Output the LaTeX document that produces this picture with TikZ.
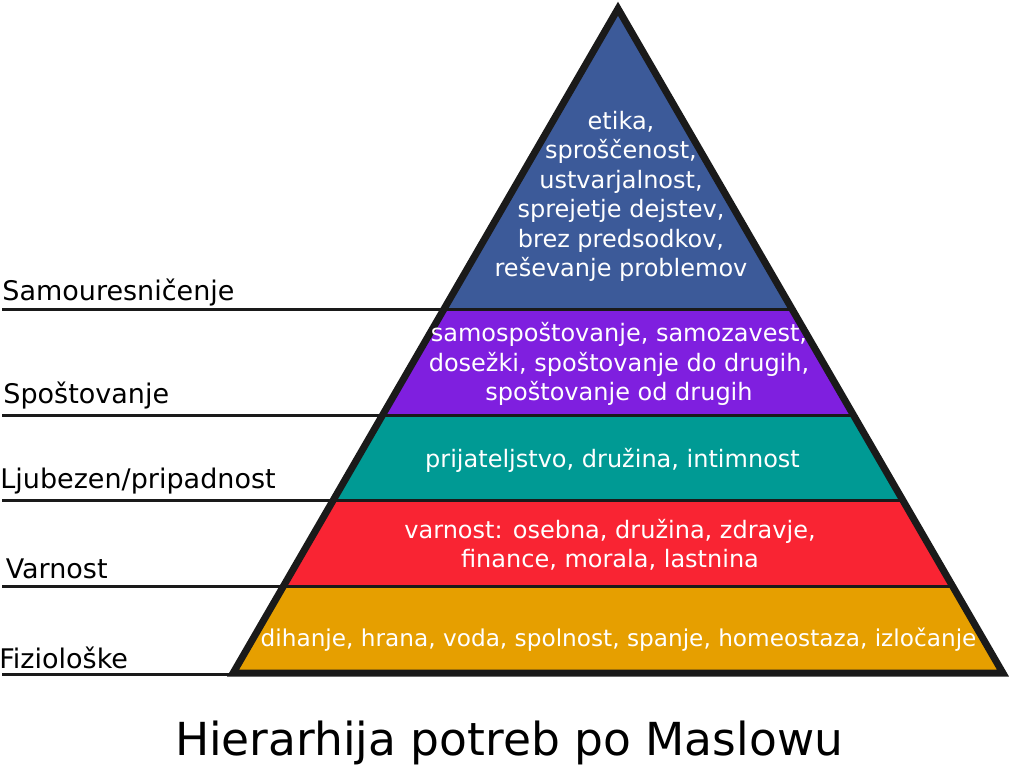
\documentclass[tikz,border=0pt]{standalone}
\usepackage{fontspec}
\setmainfont{DejaVu Sans}
\definecolor{cblue}{HTML}{3C5A99}
\definecolor{cpurple}{HTML}{7F1FDF}
\definecolor{cteal}{HTML}{009A94}
\definecolor{cred}{HTML}{F92433}
\definecolor{corange}{HTML}{E69F00}
\definecolor{cline}{HTML}{1A1A1A}
\tikzset{
  rulebar/.style={draw=cline, line width=3pt},
  outline/.style={draw=cline, line width=7pt, line join=miter},
  levellabel/.style={anchor=base west, inner sep=0pt, text=black, font=\fontsize{27}{32}\selectfont},
  leveltext/.style={inner sep=0pt, text=white, align=center, font=\fontsize{24}{29.5}\selectfont},
  titletext/.style={anchor=base, inner sep=0pt, text=black, font=\fontsize{45.5}{54}\selectfont}
}
\begin{document}
\begin{tikzpicture}[x=1pt,y=-1pt]
\useasboundingbox (0,0) rectangle (1012,764);
\coordinate (apex) at (618,8.7);
\coordinate (L1) at (444.0,309);   \coordinate (R1) at (792.0,309);
\coordinate (L2) at (382.6,415);   \coordinate (R2) at (853.4,415);
\coordinate (L3) at (333.3,500);   \coordinate (R3) at (902.7,500);
\coordinate (L4) at (283.5,586);   \coordinate (R4) at (952.5,586);
\coordinate (L5) at (233.1,673);   \coordinate (R5) at (1002.9,673);
\coordinate (S1) at (2,309);
\coordinate (S2) at (2,415);
\coordinate (S3) at (2,500);
\coordinate (S4) at (2,586);
\coordinate (S5) at (2,674.5);
\coordinate (B5) at (233.1,674.5);
% level fills
\fill[cblue] (apex) -- (R1) -- (L1) -- cycle;
\fill[cpurple] (L1) -- (R1) -- (R2) -- (L2) -- cycle;
\fill[cteal] (L2) -- (R2) -- (R3) -- (L3) -- cycle;
\fill[cred] (L3) -- (R3) -- (R4) -- (L4) -- cycle;
\fill[corange] (L4) -- (R4) -- (R5) -- (L5) -- cycle;
% label rules and dividers
\draw[rulebar] (S1) -- (R1);
\draw[rulebar] (S2) -- (R2);
\draw[rulebar] (S3) -- (R3);
\draw[rulebar] (S4) -- (R4);
\draw[rulebar] (S5) -- (B5);
% outline
\draw[outline] (apex) -- (R5) -- (L5) -- cycle;
% level labels
\node[levellabel] (lab1) at (2.2,300) {Samouresničenje};
\node[levellabel] (lab2) at (3.2,403) {Spoštovanje};
\node[levellabel] (lab3) at (0.2,488.3) {Ljubezen/pripadnost};
\node[levellabel] (lab4) at (5.6,578.3) {Varnost};
\node[levellabel] (lab5) at (-0.8,668.3) {Fiziološke};
% level texts
\node[leveltext] (t1) at (621,196.4) {etika,\\sproščenost,\\ustvarjalnost,\\sprejetje dejstev,\\brez predsodkov,\\reševanje problemov};
\node[leveltext] (t2) at (619,364.1) {samospoštovanje, samozavest,\\dosežki, spoštovanje do drugih,\\spoštovanje od drugih};
\node[leveltext, anchor=base] (t3) at (612.5,467) {prijateljstvo, družina, intimnost};
\node[leveltext] (t4) at (610,544.6) {varnost: osebna, družina, zdravje,\\finance, morala, lastnina};
\node[leveltext, anchor=base, font=\fontsize{23.2}{28}\selectfont] (t5) at (618.5,646.7) {dihanje, hrana, voda, spolnost, spanje, homeostaza, izločanje};
% title
\node[titletext] (title) at (509,755) {Hierarhija potreb po Maslowu};
\end{tikzpicture}
\end{document}
